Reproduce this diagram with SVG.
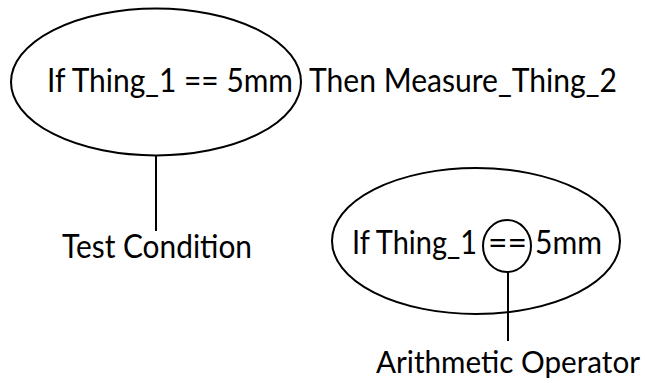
<svg xmlns="http://www.w3.org/2000/svg" width="645" height="383" viewBox="0 0 645 383">
<style>
.sh{fill:none;stroke:#000;stroke-width:2}
.t{font-family:Lato,"Open Sans","Liberation Sans",sans-serif;font-size:32px;fill:#000}
.c{stroke:#000;stroke-width:2;fill:none}
</style>
<rect width="645" height="383" fill="#fff"/>
<g id="statement">
<ellipse class="sh" cx="156" cy="82" rx="145" ry="73.5"/>
<text class="t" x="47" y="92" textLength="246" lengthAdjust="spacingAndGlyphs">If Thing_1 == 5mm</text>
<text class="t" x="309" y="92" textLength="308" lengthAdjust="spacingAndGlyphs">Then Measure_Thing_2</text>
</g>
<g id="test-condition">
<text class="t" x="62" y="258" textLength="190" lengthAdjust="spacingAndGlyphs">Test Condition</text>
</g>
<g id="condition">
<ellipse class="sh" cx="476" cy="241" rx="144" ry="73"/>
<text class="t" x="352" y="254" textLength="125" lengthAdjust="spacingAndGlyphs">If Thing_1</text>
<text class="t" x="535" y="254" textLength="67" lengthAdjust="spacingAndGlyphs">5mm</text>
</g>
<g id="operator">
<ellipse class="sh" cx="507" cy="246" rx="24" ry="26"/>
<text class="t" x="488" y="254" textLength="39" lengthAdjust="spacingAndGlyphs">==</text>
</g>
<g id="arithmetic-operator">
<text class="t" x="376" y="373" style="font-size:30px" textLength="264" lengthAdjust="spacingAndGlyphs">Arithmetic Operator</text>
</g>
<g id="connectors">
<line class="c" x1="156" y1="156" x2="156" y2="231"/>
<line class="c" x1="508" y1="272" x2="508" y2="341"/>
</g>
</svg>
